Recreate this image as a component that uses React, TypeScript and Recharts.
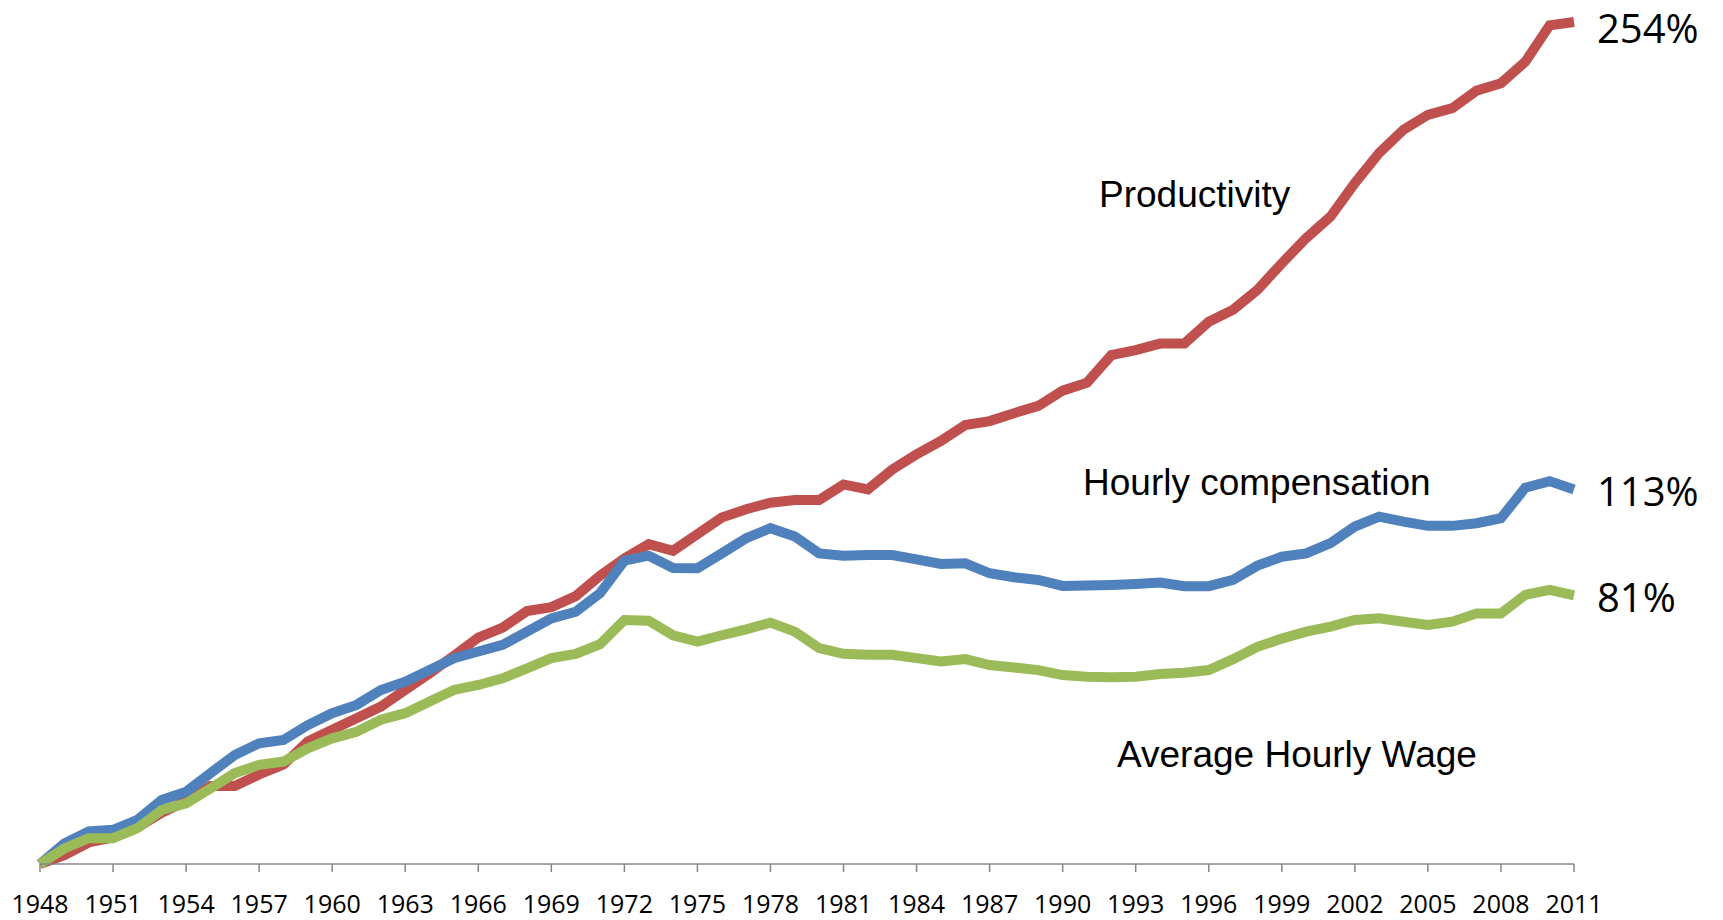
import React from 'react';
import { LineChart, Line, XAxis, YAxis, Customized } from 'recharts';

const years = [
  1948, 1949, 1950, 1951, 1952, 1953, 1954, 1955, 1956, 1957, 1958, 1959, 1960, 1961, 1962, 1963,
  1964, 1965, 1966, 1967, 1968, 1969, 1970, 1971, 1972, 1973, 1974, 1975, 1976, 1977, 1978, 1979,
  1980, 1981, 1982, 1983, 1984, 1985, 1986, 1987, 1988, 1989, 1990, 1991, 1992, 1993, 1994, 1995,
  1996, 1997, 1998, 1999, 2000, 2001, 2002, 2003, 2004, 2005, 2006, 2007, 2008, 2009, 2010, 2011,
];

// cumulative % change since 1948
const productivity = [
  0, 2.7, 6.5, 8, 11, 15.5, 19, 23.5, 23.5, 27, 30, 37, 40.5, 44, 47.5, 52.5,
  57.5, 62.8, 68.3, 71.3, 76.3, 77.5, 80.8, 87, 92.2, 96.5, 94.5, 99.5, 104.5, 107, 109, 109.8,
  109.8, 114.5, 113, 119, 123.6, 127.6, 132.4, 133.6, 136, 138.2, 142.8, 145.2, 153.5, 155, 157, 157,
  163.6, 167.2, 173.2, 181.2, 188.8, 195.3, 205.4, 214.5, 221.5, 226, 228, 233.3, 235.5, 242, 253, 254,
];

const compensation = [
  0, 6.2, 9.8, 10.3, 13.3, 19.3, 21.8, 27.4, 32.9, 36.4, 37.4, 41.9, 45.5, 48, 52.5, 55,
  58.5, 62.1, 64.1, 66.1, 70.1, 74.1, 76.1, 81.7, 91.5, 93, 89.3, 89.2, 93.7, 98.3, 101.3, 98.8,
  93.7, 93, 93.2, 93.2, 91.9, 90.5, 90.7, 87.7, 86.5, 85.7, 83.9, 84, 84.2, 84.5, 84.9, 83.8,
  83.8, 85.7, 90, 92.7, 93.7, 96.8, 101.8, 104.8, 103.3, 102, 102, 102.8, 104.3, 113.5, 115.5, 113,
];

const hourlyWage = [
  0, 4.7, 7.8, 7.8, 10.8, 16.3, 18.3, 22.8, 27.4, 29.9, 30.9, 34.9, 37.9, 39.9, 43.5, 45.5,
  49, 52.5, 54, 56, 59, 62.1, 63.4, 66.3, 73.6, 73.4, 69, 67.1, 69, 70.8, 72.8, 70.1,
  65.1, 63.4, 63.1, 63.1, 62.1, 61.1, 61.8, 60, 59.3, 58.5, 57, 56.5, 56.3, 56.5, 57.3, 57.7,
  58.5, 61.8, 65.5, 68, 70.1, 71.6, 73.6, 74.1, 73.1, 72.1, 73.1, 75.6, 75.6, 81.2, 82.7, 81,
];

const tickYears = [
  1948, 1951, 1954, 1957, 1960, 1963, 1966, 1969, 1972, 1975, 1978, 1981,
  1984, 1987, 1990, 1993, 1996, 1999, 2002, 2005, 2008, 2011,
];

const seriesLabels = ['Productivity', 'Hourly compensation', 'Average Hourly Wage'];

const data = years.map((year, i) => ({
  year,
  productivity: productivity[i],
  compensation: compensation[i],
  wage: hourlyWage[i],
}));

const lastIndex = years.length - 1;

// percent label at the end of each line (kept inside the top edge)
const endLabel = (props: any) => {
  const { x, y, index, value } = props;
  if (index !== lastIndex) return null;
  return (
    <text
      x={x + 23}
      y={Math.max(y + 17, 43)}
      fontSize={40}
      fontFamily="'Open Sans', sans-serif"
      fill="#000"
    >
      {`${Math.round(value)}%`}
    </text>
  );
};

const SeriesNames = () => (
  <g fontFamily="'Liberation Sans', Arial, sans-serif" fontSize={37} fill="#000">
    <text x={1099} y={207}>{seriesLabels[0]}</text>
    <text x={1083} y={495}>{seriesLabels[1]}</text>
    <text x={1117} y={767}>{seriesLabels[2]}</text>
  </g>
);

export default function App() {
  return (
    <div style={{ position: 'absolute', left: 0, top: 0, width: 1723, height: 920, background: '#fff' }}>
      <LineChart
        width={1723}
        height={920}
        data={data}
        margin={{ top: 22, right: 149, left: 40, bottom: 0 }}
      >
        <XAxis
          dataKey="year"
          type="number"
          domain={[1948, 2011]}
          ticks={tickYears}
          height={56}
          tickSize={8}
          tickMargin={23}
          stroke="#868686"
          strokeWidth={1.5}
          tick={{ fill: '#000', fontSize: 25, fontFamily: "'Open Sans', sans-serif" }}
        />
        <YAxis hide width={0} domain={[0, 254]} />
        <Line
          dataKey="productivity"
          stroke="#C0504D"
          strokeWidth={10}
          dot={false}
          label={endLabel}
          isAnimationActive={false}
        />
        <Line
          dataKey="compensation"
          stroke="#4F81BD"
          strokeWidth={10}
          dot={false}
          label={endLabel}
          isAnimationActive={false}
        />
        <Line
          dataKey="wage"
          stroke="#9BBB59"
          strokeWidth={10}
          dot={false}
          label={endLabel}
          isAnimationActive={false}
        />
        <Customized component={SeriesNames} />
      </LineChart>
    </div>
  );
}
